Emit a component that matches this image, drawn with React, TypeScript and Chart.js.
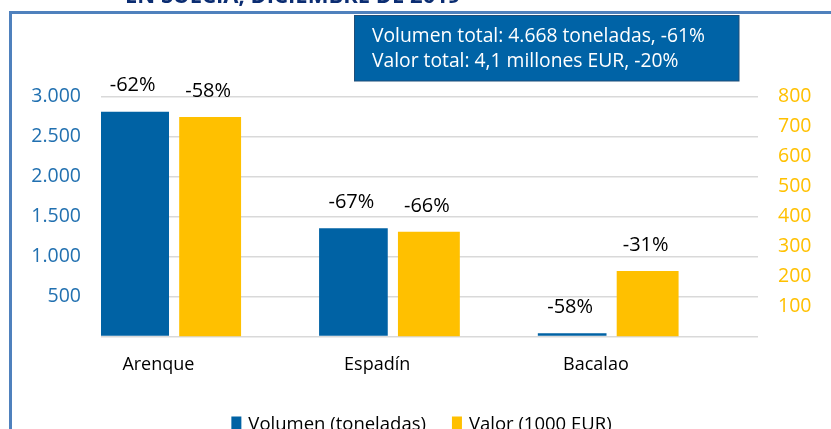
import { useEffect, useRef } from "react";
import { Chart, registerables } from "chart.js";

Chart.register(...registerables);

const categories = ["Arenque", "Espadín", "Bacalao"];
const volumen = [2810, 1352, 40];
const valor = [732, 349, 218];
const volumenChange = ["-62%", "-67%", "-58%"];
const valorChange = ["-58%", "-66%", "-31%"];
const seriesNames = ["Volumen (toneladas)", "Valor (1000 EUR)"];
const boxLines = ["Volumen total: 4.668 toneladas, -61%", "Valor total: 4,1 millones EUR, -20%"];
const titleText = "EN SUECIA, DICIEMBRE DE 2019";
const leftMax = 3000;
const leftStep = 500;
const rightMax = 800;
const rightStep = 100;

const FONT = "'Open Sans', 'Noto Sans', sans-serif";
const BLUE = "#0062a4";
const YELLOW = "#ffc000";

const fmt = (v: number) => String(v).replace(/\B(?=(\d{3})+(?!\d))/g, ".");

const decorPlugin = {
  id: "decor",
  beforeDraw(chart: any) {
    const { ctx, width, height } = chart;
    ctx.save();
    ctx.fillStyle = "#ffffff";
    ctx.fillRect(0, 0, width, height);
    // frame
    ctx.fillStyle = "#4f81bd";
    ctx.fillRect(9, 11, width, 3);
    ctx.fillRect(9, 11, 3, height);
    // title (cut off at top)
    ctx.fillStyle = "#0b2d72";
    ctx.font = `bold 22px ${FONT}`;
    ctx.textBaseline = "alphabetic";
    ctx.textAlign = "left";
    ctx.fillText(titleText, 125, 2.5);
    ctx.restore();
  },
  afterDatasetsDraw(chart: any) {
    const { ctx } = chart;
    const labels = [volumenChange, valorChange];
    ctx.save();
    ctx.font = `20px ${FONT}`;
    ctx.fillStyle = "#000000";
    ctx.textAlign = "center";
    ctx.textBaseline = "middle";
    chart.data.datasets.forEach((_: any, di: number) => {
      const meta = chart.getDatasetMeta(di);
      meta.data.forEach((el: any, i: number) => {
        ctx.fillText(labels[di][i], el.x - 2, el.y - 26);
      });
    });
    ctx.restore();
  },
  afterDraw(chart: any) {
    const { ctx, width } = chart;
    ctx.save();
    // info box
    ctx.fillStyle = "#0063a6";
    ctx.fillRect(354.5, 15.5, 384.5, 65.5);
    ctx.strokeStyle = "#1f4e79";
    ctx.lineWidth = 1;
    ctx.strokeRect(354.5, 15.5, 384.5, 65.5);
    ctx.fillStyle = "#ffffff";
    ctx.font = `19.3px ${FONT}`;
    ctx.textAlign = "left";
    ctx.textBaseline = "alphabetic";
    ctx.fillText(boxLines[0], 372, 41.5);
    ctx.fillText(boxLines[1], 372, 66.5);
    // legend
    const colors = [BLUE, YELLOW];
    ctx.font = `18.5px ${FONT}`;
    const boxW = 10;
    const gap = 7;
    const spacing = 26;
    const widths = seriesNames.map((s) => ctx.measureText(s).width);
    const total = widths.reduce((a, w) => a + boxW + gap + w, 0) + spacing * (seriesNames.length - 1);
    let x = width / 2 + 6 - total / 2;
    seriesNames.forEach((s, i) => {
      ctx.fillStyle = colors[i];
      ctx.fillRect(x, 416.5, boxW, 13);
      ctx.fillStyle = "#000000";
      ctx.fillText(s, x + boxW + gap, 429.5);
      x += boxW + gap + widths[i] + spacing;
    });
    ctx.restore();
  },
};

export default function App() {
  const ref = useRef<HTMLCanvasElement | null>(null);

  useEffect(() => {
    if (!ref.current) return;
    const chart = new Chart(ref.current, {
      type: "bar",
      data: {
        datasets: [
          {
            label: seriesNames[0],
            data: volumen.map((v, i) => ({ x: i, y: v })),
            backgroundColor: BLUE,
            yAxisID: "y",
            categoryPercentage: 0.69,
            barPercentage: 0.91,
          },
          {
            label: seriesNames[1],
            data: valor.map((v, i) => ({ x: i, y: v })),
            backgroundColor: YELLOW,
            yAxisID: "y1",
            categoryPercentage: 0.69,
            barPercentage: 0.82,
          },
        ],
      },
      options: {
        animation: false,
        responsive: false,
        maintainAspectRatio: false,
        layout: { padding: { top: 96.5, left: 0, right: 0, bottom: 0 } },
        plugins: { legend: { display: false }, tooltip: { enabled: false }, title: { display: false } },
        scales: {
          x: {
            type: "linear",
            min: -0.3264,
            max: 2.677,
            offset: false,
            grid: { display: false, drawTicks: false },
            border: { display: false },
            afterBuildTicks: (s: any) => {
              s.ticks = categories.map((_, i) => ({ value: i }));
            },
            afterFit: (s: any) => {
              s.height = 92.5;
            },
            ticks: {
              autoSkip: false,
              maxRotation: 0,
              labelOffset: -14,
              padding: 18,
              color: "#000000",
              font: { family: FONT, size: 18 },
              callback: (v: any) => categories[Math.round(Number(v))] ?? "",
            },
          },
          y: {
            position: "left",
            min: 0,
            max: leftMax,
            grid: { color: "#d9d9d9", lineWidth: 1.5, drawTicks: false },
            border: { display: false },
            afterFit: (s: any) => {
              s.width = 101;
            },
            ticks: {
              stepSize: leftStep,
              padding: 20,
              color: "#2170b0",
              font: { family: FONT, size: 19.5 },
              callback: (v: any) => (Number(v) === 0 ? "" : fmt(Number(v))),
            },
          },
          y1: {
            position: "right",
            min: 0,
            max: rightMax,
            grid: { display: false, drawTicks: false },
            border: { display: false },
            afterFit: (s: any) => {
              s.width = 73;
            },
            ticks: {
              stepSize: rightStep,
              padding: 20,
              color: YELLOW,
              font: { family: FONT, size: 19.5 },
              callback: (v: any) => (Number(v) === 0 ? "" : String(v)),
            },
          },
        },
      } as any,
      plugins: [decorPlugin],
    });
    return () => chart.destroy();
  }, []);

  return (
    <div style={{ position: "absolute", left: 0, top: 0, width: 831, height: 429, overflow: "hidden" }}>
      <canvas ref={ref} width={831} height={429} style={{ display: "block", width: 831, height: 429 }} />
    </div>
  );
}
